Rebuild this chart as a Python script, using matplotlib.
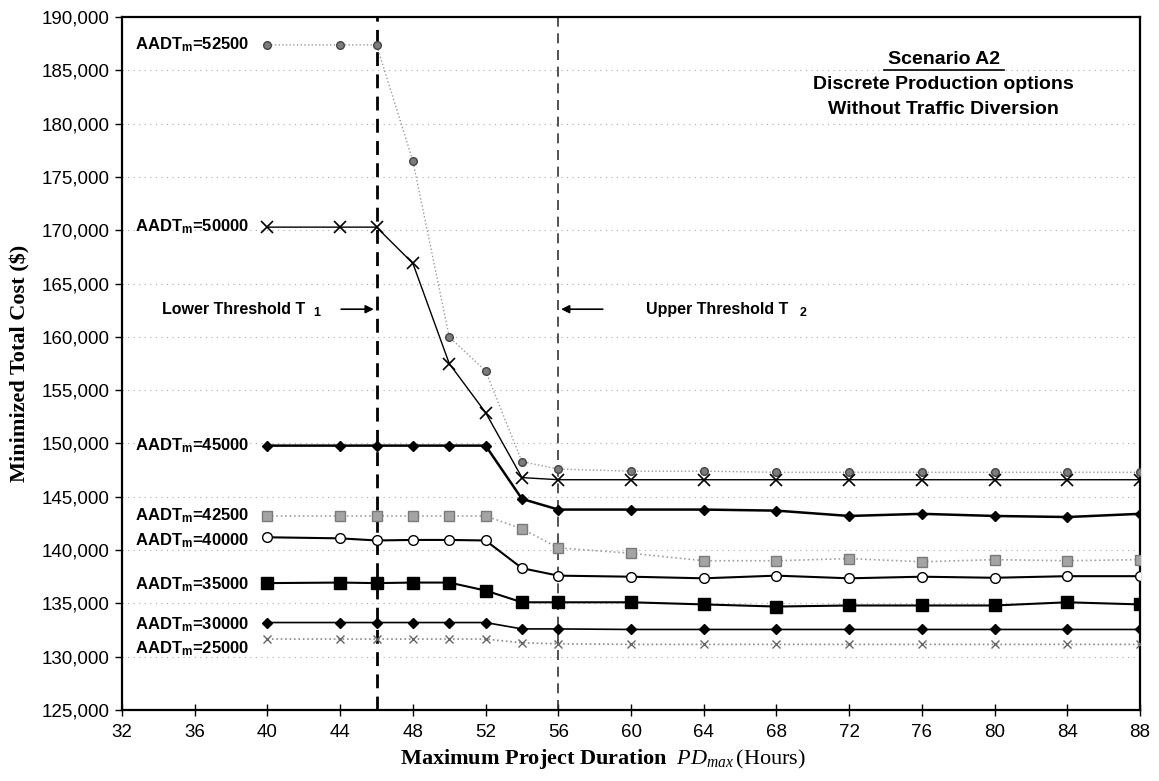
import matplotlib
matplotlib.use("Agg")
import matplotlib.pyplot as plt
from matplotlib.ticker import FuncFormatter, MultipleLocator

plt.rcParams['mathtext.fontset'] = 'custom'
plt.rcParams['mathtext.bf'] = 'Liberation Sans:bold'
plt.rcParams['mathtext.it'] = 'Liberation Serif:italic'
plt.rcParams['mathtext.rm'] = 'Liberation Serif'

# x positions (hours)
hours = [40, 44, 46, 48, 50, 52, 54, 56, 60, 64, 68, 72, 76, 80, 84, 88]

# minimized total cost for each AADT_m
aadt = ['52500', '50000', '45000', '42500', '40000', '35000', '30000', '25000']
cost_52500 = [187400, 187400, 187400, 176500, 160000, 156800, 148300, 147600,
              147400, 147400, 147300, 147300, 147300, 147300, 147300, 147300]
cost_50000 = [170300, 170300, 170300, 166900, 157500, 152900, 146800, 146600,
              146600, 146600, 146600, 146600, 146600, 146600, 146600, 146600]
cost_45000 = [149800, 149800, 149800, 149800, 149800, 149800, 144800, 143800,
              143800, 143800, 143700, 143200, 143400, 143200, 143100, 143400]
cost_42500 = [143200, 143200, 143200, 143200, 143200, 143200, 142000, 140200,
              139700, 139000, 139000, 139200, 138900, 139100, 139000, 139100]
cost_40000 = [141200, 141100, 140900, 140950, 140950, 140900, 138300, 137600,
              137500, 137350, 137600, 137350, 137500, 137400, 137550, 137550]
cost_35000 = [136900, 136950, 136900, 136950, 136950, 136200, 135100, 135100,
              135100, 134900, 134700, 134800, 134800, 134800, 135100, 134900]
cost_30000 = [133200, 133200, 133200, 133200, 133200, 133200, 132600, 132600,
              132550, 132550, 132550, 132550, 132550, 132550, 132550, 132550]
cost_25000 = [131650, 131650, 131650, 131650, 131650, 131650, 131300, 131200,
              131150, 131150, 131150, 131150, 131150, 131150, 131150, 131150]

series = [cost_52500, cost_50000, cost_45000, cost_42500,
          cost_40000, cost_35000, cost_30000, cost_25000]

# line / marker styles per series
styles = [
    dict(color='#9a9a9a', ls=':', lw=1.0, marker='o', ms=5.5, mfc='#7c7c7c', mec='#444444'),
    dict(color='black', ls='-', lw=1.0, marker='x', ms=9, mew=1.2),
    dict(color='black', ls='-', lw=1.8, marker='D', ms=5.5),
    dict(color='#a0a0a0', ls=':', lw=1.2, marker='s', ms=6.5, mfc='#a4a4a4', mec='#7a7a7a'),
    dict(color='black', ls='-', lw=1.5, marker='o', ms=7, mfc='white', mec='black'),
    dict(color='black', ls='-', lw=1.5, marker='s', ms=8),
    dict(color='black', ls='-', lw=1.2, marker='D', ms=5),
    dict(color='#8a8a8a', ls=':', lw=1.2, marker='x', ms=6, mec='#666666'),
]
# vertical offset of the series labels from the first point
label_dy = [0, 0, 0, 0, -350, -150, -200, -900]

fig = plt.figure(figsize=(11.59, 7.81), dpi=100)
ax = fig.add_axes([0.1053, 0.091, 0.8783, 0.887])

for vals, st in zip(series, styles):
    ax.plot(hours, vals, zorder=3, **st)

for name, vals, dy in zip(aadt, series, label_dy):
    ax.text(32.7, vals[0] + dy, r'AADT$_{\mathbf{m}}$=' + name, family='Liberation Sans',
            fontweight='bold', fontsize=12, va='center', ha='left')

# threshold lines
ax.axvline(46, color='black', ls=(0, (5, 3)), lw=2.0, zorder=2)
ax.axvline(56, color='#333333', ls=(0, (6, 4)), lw=1.2, zorder=2)

ax.text(34.2, 162600, 'Lower Threshold T', family='Liberation Sans', fontweight='bold',
        fontsize=11.5, va='center', ha='left')
ax.text(42.5, 162200, '1', family='Liberation Sans', fontweight='bold', fontsize=9, va='center')
ax.annotate('', xy=(46, 162600), xytext=(43.9, 162600),
            arrowprops=dict(arrowstyle='-|>', color='black', lw=1.2, mutation_scale=12))
ax.text(60.8, 162600, 'Upper Threshold T', family='Liberation Sans', fontweight='bold',
        fontsize=11.5, va='center', ha='left')
ax.text(69.3, 162200, '2', family='Liberation Sans', fontweight='bold', fontsize=9, va='center')
ax.annotate('', xy=(56, 162600), xytext=(58.6, 162600),
            arrowprops=dict(arrowstyle='-|>', color='black', lw=1.2, mutation_scale=12))

# scenario text
ax.text(77.2, 186000, 'Scenario A2', family='Liberation Sans', fontweight='bold',
        fontsize=14, ha='center', va='center')
ax.plot([73.9, 80.5], [185050, 185050], color='black', lw=1.2)
ax.text(77.2, 183650, 'Discrete Production options', family='Liberation Sans',
        fontweight='bold', fontsize=14, ha='center', va='center')
ax.text(77.2, 181350, 'Without Traffic Diversion', family='Liberation Sans',
        fontweight='bold', fontsize=14, ha='center', va='center')

ax.set_xlim(32, 88)
ax.set_ylim(125000, 190000)
ax.xaxis.set_major_locator(MultipleLocator(4))
ax.yaxis.set_major_locator(MultipleLocator(5000))
ax.yaxis.set_major_formatter(FuncFormatter(lambda v, p: f'{int(v):,}'))
ax.grid(axis='y', color='#aaaaaa', ls=(0, (1, 4)), lw=0.8)
ax.set_axisbelow(True)

for lab in ax.get_xticklabels() + ax.get_yticklabels():
    lab.set_family('Liberation Sans')
    lab.set_fontsize(13.5)
ax.tick_params(axis='x', direction='inout', length=8, width=1, pad=6)
ax.tick_params(axis='y', direction='out', length=5, width=1, pad=4)
for sp in ax.spines.values():
    sp.set_linewidth(1.6)
    sp.set_color('black')

ax.set_ylabel('Minimized Total Cost ($)', family='Liberation Serif', fontweight='bold',
              fontsize=16, labelpad=8)
fig.text(0.52, 0.022, r'Maximum Project Duration  $PD_{max}\,\mathrm{(Hours)}$',
         family='Liberation Serif', fontweight='bold', fontsize=16, ha='center', va='baseline')

fig.savefig('out.png', dpi=100)
